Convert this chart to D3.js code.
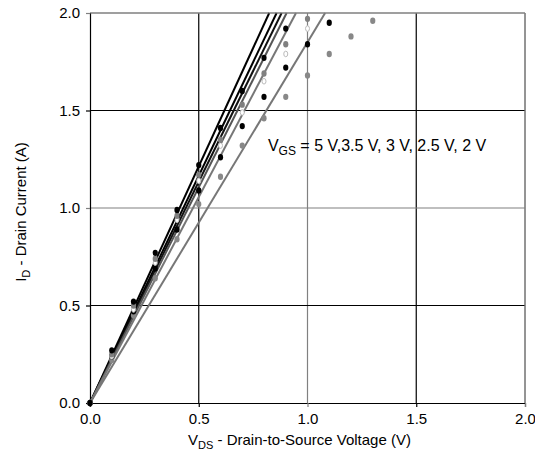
<!DOCTYPE html>
<html>
<head>
<meta charset="utf-8">
<script src="https://cdn.jsdelivr.net/npm/d3@7"></script>
<style>
  body { margin: 0; background: #fff; }
  text { font-family: "Liberation Sans", Arial, sans-serif; }
</style>
</head>
<body>
<div id="chart"></div>
<script>
// measured points, drain-source voltage steps
var vds = [0, 0.1, 0.2, 0.3, 0.4, 0.5, 0.6, 0.7, 0.8, 0.9, 1.0, 1.1, 1.2, 1.3];

// drain current per gate voltage
var id5v   = [0, 0.27, 0.52, 0.77, 0.99, 1.22, 1.41, 1.60, 1.77, 1.92];
var id3v5  = [0, 0.25, 0.50, 0.74, 0.96, 1.17, 1.35, 1.53, 1.69, 1.84, 1.97];
var id3v   = [0, 0.24, 0.48, 0.72, 0.94, 1.14, 1.32, 1.49, 1.65, 1.79, 1.92];
var id2v5  = [0, 0.24, 0.47, 0.69, 0.89, 1.09, 1.26, 1.42, 1.57, 1.72, 1.84, 1.95];
var id2v   = [0, 0.22, 0.45, 0.64, 0.84, 1.02, 1.16, 1.32, 1.46, 1.57, 1.68, 1.79, 1.88, 1.96];

// straight fit lines from origin: voltage where each reaches 2.0 A
var fitEndV = [0.824, 0.858, 0.881, 0.904, 0.947, 1.081];

var xTicks = [0, 0.5, 1.0, 1.5, 2.0];
var yTicks = [0, 0.5, 1.0, 1.5, 2.0];

// set the dimensions and margins of the graph
var margin = { top: 13, right: 10, bottom: 59, left: 90 },
    width = 535 - margin.left - margin.right,
    height = 462 - margin.top - margin.bottom;

var svg = d3.select("#chart")
    .append("svg")
    .attr("width", 535)
    .attr("height", 462)
    .append("g")
    .attr("transform", "translate(" + margin.left + "," + margin.top + ")");

var x = d3.scaleLinear().domain([0, 2]).range([0, width]);
var y = d3.scaleLinear().domain([0, 2]).range([height, 0]);

var gray = "#808080";
function gridColor(d) { return (d === 1.0 || d === 2.0) ? gray : "#000"; }

// grid lines
svg.selectAll(".vgrid")
    .data(xTicks.slice(1))
    .enter().append("line")
    .attr("x1", d => x(d)).attr("x2", d => x(d))
    .attr("y1", 0).attr("y2", height)
    .attr("stroke", gridColor)
    .attr("stroke-width", 1.2);

svg.selectAll(".hgrid")
    .data(yTicks.slice(1))
    .enter().append("line")
    .attr("x1", 0).attr("x2", width)
    .attr("y1", d => y(d)).attr("y2", d => y(d))
    .attr("stroke", gridColor)
    .attr("stroke-width", 1.2);

// axes
var xAxis = svg.append("g")
    .attr("transform", "translate(0," + height + ")")
    .call(d3.axisBottom(x).tickValues(xTicks).tickFormat(d3.format(".1f")).tickSize(4).tickPadding(6));
var yAxis = svg.append("g")
    .call(d3.axisLeft(y).tickValues(yTicks).tickFormat(d3.format(".1f")).tickSize(4).tickPadding(6));

[xAxis, yAxis].forEach(function (ax) {
    ax.select(".domain").attr("stroke", "#000").attr("stroke-width", 1.2);
    ax.selectAll(".tick line").attr("stroke", gridColor).attr("stroke-width", 1.2);
    ax.selectAll(".tick text")
        .attr("fill", "#000")
        .style("font-size", "15px")
        .style("font-family", "'Liberation Sans', Arial, sans-serif");
});

// fitted lines
var lineColors = ["#000", "#000", "#111", "#555", "#777", "#777"];
var fitData = fitEndV.map(function (v) { return [[0, 0], [v, 2.0]]; });
var line = d3.line().x(d => x(d[0])).y(d => y(d[1]));

svg.selectAll(".fit")
    .data(fitData)
    .enter().append("path")
    .attr("d", line)
    .attr("fill", "none")
    .attr("stroke", (d, i) => lineColors[i])
    .attr("stroke-width", 2);

// measured dots
var series = [
    { vals: id2v,  fill: "#888", stroke: "none" },
    { vals: id2v5, fill: "#000", stroke: "none" },
    { vals: id3v,  fill: "#fff", stroke: "#bbb" },
    { vals: id3v5, fill: "#808080", stroke: "none" },
    { vals: id5v,  fill: "#000", stroke: "none" }
];

series.forEach(function (s) {
    svg.append("g").selectAll("ellipse")
        .data(s.vals)
        .enter().append("ellipse")
        .attr("cx", (d, i) => x(vds[i]))
        .attr("cy", d => y(d))
        .attr("rx", s.stroke === "none" ? 2.6 : 2)
        .attr("ry", s.stroke === "none" ? 3.2 : 2.8)
        .attr("fill", s.fill)
        .attr("stroke", s.stroke)
        .attr("stroke-width", 1);
});

// top / right frame
svg.append("line").attr("x1", 0).attr("x2", width).attr("y1", 0).attr("y2", 0)
    .attr("stroke", gray).attr("stroke-width", 1.2);
svg.append("line").attr("x1", width).attr("x2", width).attr("y1", 0).attr("y2", height)
    .attr("stroke", gray).attr("stroke-width", 1.2);

// annotation
var ann = svg.append("text")
    .attr("x", x(0.818))
    .attr("y", y(1.29))
    .attr("font-size", "16px")
    .attr("fill", "#000");
ann.append("tspan").text("V");
ann.append("tspan").attr("font-size", "12px").attr("dy", 4).text("GS");
ann.append("tspan").attr("dy", -4).text(" = 5 V,3.5 V, 3 V, 2.5 V, 2 V");

// axis titles
var xt = svg.append("text")
    .attr("x", x(1.0) - 8)
    .attr("y", height + 42)
    .attr("text-anchor", "middle")
    .attr("font-size", "15px")
    .attr("fill", "#000");
xt.append("tspan").text("V");
xt.append("tspan").attr("font-size", "11px").attr("dy", 4).text("DS");
xt.append("tspan").attr("dy", -4).text(" - Drain-to-Source Voltage (V)");

var yt = svg.append("text")
    .attr("transform", "translate(" + (-64) + "," + (y(1.0) + 4) + ") rotate(-90)")
    .attr("text-anchor", "middle")
    .attr("font-size", "15px")
    .attr("fill", "#000");
yt.append("tspan").text("I");
yt.append("tspan").attr("font-size", "11px").attr("dy", 4).text("D");
yt.append("tspan").attr("dy", -4).text(" - Drain Current (A)");
</script>
</body>
</html>
